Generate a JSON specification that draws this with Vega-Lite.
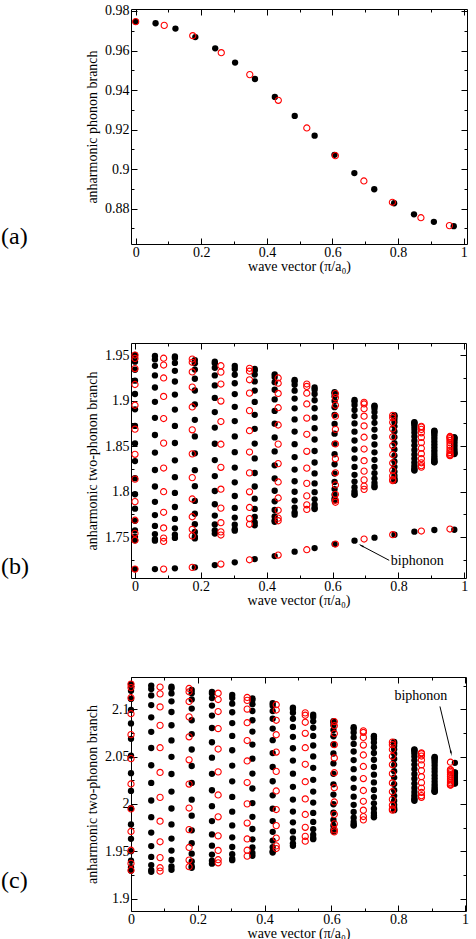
{
"$schema": "https://vega.github.io/schema/vega-lite/v6.json",
"padding": {"left": 0, "top": 3, "right": 0, "bottom": 0},
"background": "white",
"config": {
  "font": "Liberation Serif",
  "view": {"stroke": "#000", "strokeWidth": 1},
  "axis": {"grid": false, "domain": false, "tickColor": "#000", "tickWidth": 1, "labelColor": "#000", "titleColor": "#000",
           "labelFont": "Liberation Serif", "titleFont": "Liberation Serif", "labelFontSize": 14, "titleFontSize": 14,
           "titleFontWeight": "normal", "labelFlush": false, "labelOverlap": false}
},
"datasets": {
"aK": [{"k":0,"e":0.9746},{"k":0.0606,"e":0.9738},{"k":0.1212,"e":0.9711},{"k":0.1818,"e":0.9668},{"k":0.2424,"e":0.9611},{"k":0.303,"e":0.9539},{"k":0.3636,"e":0.9456},{"k":0.4242,"e":0.9365},{"k":0.4848,"e":0.9269},{"k":0.5455,"e":0.9169},{"k":0.6061,"e":0.9072},{"k":0.6667,"e":0.898},{"k":0.7273,"e":0.8898},{"k":0.7879,"e":0.8827},{"k":0.8485,"e":0.8771},{"k":0.9091,"e":0.8733},{"k":0.9697,"e":0.8711}],
"aR": [{"k":0,"e":0.9746},{"k":0.087,"e":0.9727},{"k":0.1739,"e":0.9675},{"k":0.2609,"e":0.9589},{"k":0.3478,"e":0.9478},{"k":0.4348,"e":0.9348},{"k":0.5217,"e":0.9208},{"k":0.6087,"e":0.9068},{"k":0.6957,"e":0.894},{"k":0.7826,"e":0.8832},{"k":0.8696,"e":0.8754},{"k":0.9565,"e":0.8714}],
"bK": [
{"k":0,"e":1.95},{"k":0,"e":1.9482},{"k":0,"e":1.9427},{"k":0,"e":1.9338},{"k":0,"e":1.9218},{"k":0,"e":1.9072},{"k":0,"e":1.8903},{"k":0,"e":1.8721},{"k":0,"e":1.8529},{"k":0,"e":1.8335},{"k":0,"e":1.8146},{"k":0,"e":1.797},{"k":0,"e":1.7812},{"k":0,"e":1.7678},{"k":0,"e":1.7573},{"k":0,"e":1.7502},{"k":0,"e":1.7465},{"k":0,"e":1.7148},
{"k":0.0606,"e":1.9489},{"k":0.0606,"e":1.9452},{"k":0.0606,"e":1.9381},{"k":0.0606,"e":1.9276},{"k":0.0606,"e":1.9143},{"k":0.0606,"e":1.8986},{"k":0.0606,"e":1.881},{"k":0.0606,"e":1.8621},{"k":0.0606,"e":1.8428},{"k":0.0606,"e":1.8237},{"k":0.0606,"e":1.8055},{"k":0.0606,"e":1.7887},{"k":0.0606,"e":1.7741},{"k":0.0606,"e":1.7622},{"k":0.0606,"e":1.7533},{"k":0.0606,"e":1.7478},{"k":0.0606,"e":1.746},{"k":0.0606,"e":1.7148},
{"k":0.1212,"e":1.9485},{"k":0.1212,"e":1.9467},{"k":0.1212,"e":1.9413},{"k":0.1212,"e":1.9326},{"k":0.1212,"e":1.9209},{"k":0.1212,"e":1.9065},{"k":0.1212,"e":1.89},{"k":0.1212,"e":1.8721},{"k":0.1212,"e":1.8533},{"k":0.1212,"e":1.8343},{"k":0.1212,"e":1.8158},{"k":0.1212,"e":1.7985},{"k":0.1212,"e":1.783},{"k":0.1212,"e":1.7699},{"k":0.1212,"e":1.7596},{"k":0.1212,"e":1.7526},{"k":0.1212,"e":1.749},{"k":0.1212,"e":1.7156},
{"k":0.1818,"e":1.9444},{"k":0.1818,"e":1.9409},{"k":0.1818,"e":1.934},{"k":0.1818,"e":1.9239},{"k":0.1818,"e":1.911},{"k":0.1818,"e":1.8958},{"k":0.1818,"e":1.8788},{"k":0.1818,"e":1.8606},{"k":0.1818,"e":1.842},{"k":0.1818,"e":1.8235},{"k":0.1818,"e":1.8059},{"k":0.1818,"e":1.7897},{"k":0.1818,"e":1.7756},{"k":0.1818,"e":1.7641},{"k":0.1818,"e":1.7556},{"k":0.1818,"e":1.7503},{"k":0.1818,"e":1.7485},{"k":0.1818,"e":1.7167},
{"k":0.2424,"e":1.9427},{"k":0.2424,"e":1.941},{"k":0.2424,"e":1.9359},{"k":0.2424,"e":1.9276},{"k":0.2424,"e":1.9166},{"k":0.2424,"e":1.9029},{"k":0.2424,"e":1.8873},{"k":0.2424,"e":1.8703},{"k":0.2424,"e":1.8525},{"k":0.2424,"e":1.8346},{"k":0.2424,"e":1.817},{"k":0.2424,"e":1.8006},{"k":0.2424,"e":1.786},{"k":0.2424,"e":1.7736},{"k":0.2424,"e":1.7638},{"k":0.2424,"e":1.7572},{"k":0.2424,"e":1.7538},{"k":0.2424,"e":1.7192},
{"k":0.303,"e":1.9379},{"k":0.303,"e":1.9347},{"k":0.303,"e":1.9283},{"k":0.303,"e":1.919},{"k":0.303,"e":1.9071},{"k":0.303,"e":1.8931},{"k":0.303,"e":1.8774},{"k":0.303,"e":1.8606},{"k":0.303,"e":1.8433},{"k":0.303,"e":1.8263},{"k":0.303,"e":1.8101},{"k":0.303,"e":1.7951},{"k":0.303,"e":1.782},{"k":0.303,"e":1.7714},{"k":0.303,"e":1.7635},{"k":0.303,"e":1.7586},{"k":0.303,"e":1.757},{"k":0.303,"e":1.7222},
{"k":0.3636,"e":1.9347},{"k":0.3636,"e":1.9331},{"k":0.3636,"e":1.9285},{"k":0.3636,"e":1.921},{"k":0.3636,"e":1.9109},{"k":0.3636,"e":1.8985},{"k":0.3636,"e":1.8843},{"k":0.3636,"e":1.8689},{"k":0.3636,"e":1.8527},{"k":0.3636,"e":1.8364},{"k":0.3636,"e":1.8204},{"k":0.3636,"e":1.8055},{"k":0.3636,"e":1.7922},{"k":0.3636,"e":1.7809},{"k":0.3636,"e":1.7721},{"k":0.3636,"e":1.766},{"k":0.3636,"e":1.7629},{"k":0.3636,"e":1.7258},
{"k":0.4242,"e":1.9288},{"k":0.4242,"e":1.9259},{"k":0.4242,"e":1.9202},{"k":0.4242,"e":1.9118},{"k":0.4242,"e":1.9012},{"k":0.4242,"e":1.8886},{"k":0.4242,"e":1.8746},{"k":0.4242,"e":1.8595},{"k":0.4242,"e":1.8441},{"k":0.4242,"e":1.8288},{"k":0.4242,"e":1.8143},{"k":0.4242,"e":1.8009},{"k":0.4242,"e":1.7892},{"k":0.4242,"e":1.7797},{"k":0.4242,"e":1.7726},{"k":0.4242,"e":1.7683},{"k":0.4242,"e":1.7668},{"k":0.4242,"e":1.7291},
{"k":0.4848,"e":1.9226},{"k":0.4848,"e":1.9213},{"k":0.4848,"e":1.9173},{"k":0.4848,"e":1.9108},{"k":0.4848,"e":1.9021},{"k":0.4848,"e":1.8914},{"k":0.4848,"e":1.8792},{"k":0.4848,"e":1.8659},{"k":0.4848,"e":1.852},{"k":0.4848,"e":1.8379},{"k":0.4848,"e":1.8241},{"k":0.4848,"e":1.8113},{"k":0.4848,"e":1.7998},{"k":0.4848,"e":1.7901},{"k":0.4848,"e":1.7824},{"k":0.4848,"e":1.7772},{"k":0.4848,"e":1.7746},{"k":0.4848,"e":1.7339},
{"k":0.5455,"e":1.9143},{"k":0.5455,"e":1.9119},{"k":0.5455,"e":1.9072},{"k":0.5455,"e":1.9003},{"k":0.5455,"e":1.8915},{"k":0.5455,"e":1.8812},{"k":0.5455,"e":1.8696},{"k":0.5455,"e":1.8572},{"k":0.5455,"e":1.8445},{"k":0.5455,"e":1.8319},{"k":0.5455,"e":1.8199},{"k":0.5455,"e":1.8089},{"k":0.5455,"e":1.7993},{"k":0.5455,"e":1.7914},{"k":0.5455,"e":1.7856},{"k":0.5455,"e":1.782},{"k":0.5455,"e":1.7808},{"k":0.5455,"e":1.7379},
{"k":0.6061,"e":1.9091},{"k":0.6061,"e":1.908},{"k":0.6061,"e":1.9048},{"k":0.6061,"e":1.8996},{"k":0.6061,"e":1.8927},{"k":0.6061,"e":1.8841},{"k":0.6061,"e":1.8742},{"k":0.6061,"e":1.8636},{"k":0.6061,"e":1.8524},{"k":0.6061,"e":1.841},{"k":0.6061,"e":1.83},{"k":0.6061,"e":1.8197},{"k":0.6061,"e":1.8105},{"k":0.6061,"e":1.8027},{"k":0.6061,"e":1.7965},{"k":0.6061,"e":1.7923},{"k":0.6061,"e":1.7902},{"k":0.6061,"e":1.7423},
{"k":0.6667,"e":1.9006},{"k":0.6667,"e":1.8988},{"k":0.6667,"e":1.8951},{"k":0.6667,"e":1.8897},{"k":0.6667,"e":1.8829},{"k":0.6667,"e":1.8748},{"k":0.6667,"e":1.8658},{"k":0.6667,"e":1.8561},{"k":0.6667,"e":1.8462},{"k":0.6667,"e":1.8364},{"k":0.6667,"e":1.827},{"k":0.6667,"e":1.8184},{"k":0.6667,"e":1.8109},{"k":0.6667,"e":1.8048},{"k":0.6667,"e":1.8003},{"k":0.6667,"e":1.7974},{"k":0.6667,"e":1.7965},{"k":0.6667,"e":1.746},
{"k":0.7273,"e":1.8944},{"k":0.7273,"e":1.8936},{"k":0.7273,"e":1.8912},{"k":0.7273,"e":1.8873},{"k":0.7273,"e":1.882},{"k":0.7273,"e":1.8755},{"k":0.7273,"e":1.8681},{"k":0.7273,"e":1.8601},{"k":0.7273,"e":1.8517},{"k":0.7273,"e":1.8431},{"k":0.7273,"e":1.8348},{"k":0.7273,"e":1.827},{"k":0.7273,"e":1.8201},{"k":0.7273,"e":1.8142},{"k":0.7273,"e":1.8096},{"k":0.7273,"e":1.8064},{"k":0.7273,"e":1.8048},{"k":0.7273,"e":1.7493},
{"k":0.7879,"e":1.8839},{"k":0.7879,"e":1.8826},{"k":0.7879,"e":1.8801},{"k":0.7879,"e":1.8764},{"k":0.7879,"e":1.8716},{"k":0.7879,"e":1.8661},{"k":0.7879,"e":1.8598},{"k":0.7879,"e":1.8531},{"k":0.7879,"e":1.8463},{"k":0.7879,"e":1.8395},{"k":0.7879,"e":1.833},{"k":0.7879,"e":1.8271},{"k":0.7879,"e":1.8219},{"k":0.7879,"e":1.8176},{"k":0.7879,"e":1.8145},{"k":0.7879,"e":1.8125},{"k":0.7879,"e":1.8119},{"k":0.7879,"e":1.7526},
{"k":0.8485,"e":1.8761},{"k":0.8485,"e":1.8756},{"k":0.8485,"e":1.8742},{"k":0.8485,"e":1.8719},{"k":0.8485,"e":1.8688},{"k":0.8485,"e":1.8649},{"k":0.8485,"e":1.8605},{"k":0.8485,"e":1.8558},{"k":0.8485,"e":1.8508},{"k":0.8485,"e":1.8457},{"k":0.8485,"e":1.8408},{"k":0.8485,"e":1.8362},{"k":0.8485,"e":1.8321},{"k":0.8485,"e":1.8286},{"k":0.8485,"e":1.8259},{"k":0.8485,"e":1.824},{"k":0.8485,"e":1.823},{"k":0.8485,"e":1.7559},
{"k":0.9091,"e":1.8668},{"k":0.9091,"e":1.8662},{"k":0.9091,"e":1.865},{"k":0.9091,"e":1.8632},{"k":0.9091,"e":1.8609},{"k":0.9091,"e":1.8582},{"k":0.9091,"e":1.8552},{"k":0.9091,"e":1.852},{"k":0.9091,"e":1.8487},{"k":0.9091,"e":1.8454},{"k":0.9091,"e":1.8423},{"k":0.9091,"e":1.8394},{"k":0.9091,"e":1.8369},{"k":0.9091,"e":1.8349},{"k":0.9091,"e":1.8334},{"k":0.9091,"e":1.8324},{"k":0.9091,"e":1.8321},{"k":0.9091,"e":1.7577},
{"k":0.9697,"e":1.8596},{"k":0.9697,"e":1.8594},{"k":0.9697,"e":1.8589},{"k":0.9697,"e":1.8581},{"k":0.9697,"e":1.8571},{"k":0.9697,"e":1.8557},{"k":0.9697,"e":1.8542},{"k":0.9697,"e":1.8526},{"k":0.9697,"e":1.8508},{"k":0.9697,"e":1.8491},{"k":0.9697,"e":1.8474},{"k":0.9697,"e":1.8458},{"k":0.9697,"e":1.8444},{"k":0.9697,"e":1.8432},{"k":0.9697,"e":1.8422},{"k":0.9697,"e":1.8416},{"k":0.9697,"e":1.8412},{"k":0.9697,"e":1.758}
],
"bR": [
{"k":0,"e":1.95},{"k":0,"e":1.9462},{"k":0,"e":1.9351},{"k":0,"e":1.9176},{"k":0,"e":1.8948},{"k":0,"e":1.8685},{"k":0,"e":1.8409},{"k":0,"e":1.8136},{"k":0,"e":1.7889},{"k":0,"e":1.7685},{"k":0,"e":1.7541},{"k":0,"e":1.7465},{"k":0,"e":1.7148},
{"k":0.087,"e":1.9465},{"k":0.087,"e":1.939},{"k":0.087,"e":1.9248},{"k":0.087,"e":1.9045},{"k":0.087,"e":1.8802},{"k":0.087,"e":1.8532},{"k":0.087,"e":1.8258},{"k":0.087,"e":1.7998},{"k":0.087,"e":1.7772},{"k":0.087,"e":1.76},{"k":0.087,"e":1.7489},{"k":0.087,"e":1.7452},{"k":0.087,"e":1.7148},
{"k":0.1739,"e":1.9456},{"k":0.1739,"e":1.942},{"k":0.1739,"e":1.9314},{"k":0.1739,"e":1.9147},{"k":0.1739,"e":1.8929},{"k":0.1739,"e":1.8678},{"k":0.1739,"e":1.8414},{"k":0.1739,"e":1.8153},{"k":0.1739,"e":1.7918},{"k":0.1739,"e":1.7723},{"k":0.1739,"e":1.7585},{"k":0.1739,"e":1.7513},{"k":0.1739,"e":1.7167},
{"k":0.2609,"e":1.9382},{"k":0.2609,"e":1.9312},{"k":0.2609,"e":1.9181},{"k":0.2609,"e":1.8994},{"k":0.2609,"e":1.8769},{"k":0.2609,"e":1.852},{"k":0.2609,"e":1.8266},{"k":0.2609,"e":1.8026},{"k":0.2609,"e":1.7818},{"k":0.2609,"e":1.7658},{"k":0.2609,"e":1.7557},{"k":0.2609,"e":1.7522},{"k":0.2609,"e":1.7203},
{"k":0.3478,"e":1.9354},{"k":0.3478,"e":1.9322},{"k":0.3478,"e":1.9228},{"k":0.3478,"e":1.9081},{"k":0.3478,"e":1.8889},{"k":0.3478,"e":1.8668},{"k":0.3478,"e":1.8434},{"k":0.3478,"e":1.8205},{"k":0.3478,"e":1.7997},{"k":0.3478,"e":1.7825},{"k":0.3478,"e":1.7703},{"k":0.3478,"e":1.764},{"k":0.3478,"e":1.725},
{"k":0.4348,"e":1.9248},{"k":0.4348,"e":1.919},{"k":0.4348,"e":1.9078},{"k":0.4348,"e":1.8921},{"k":0.4348,"e":1.8731},{"k":0.4348,"e":1.8521},{"k":0.4348,"e":1.8307},{"k":0.4348,"e":1.8105},{"k":0.4348,"e":1.7929},{"k":0.4348,"e":1.7794},{"k":0.4348,"e":1.7708},{"k":0.4348,"e":1.7679},{"k":0.4348,"e":1.7302},
{"k":0.5217,"e":1.9181},{"k":0.5217,"e":1.9155},{"k":0.5217,"e":1.908},{"k":0.5217,"e":1.8962},{"k":0.5217,"e":1.8807},{"k":0.5217,"e":1.8629},{"k":0.5217,"e":1.8442},{"k":0.5217,"e":1.8257},{"k":0.5217,"e":1.809},{"k":0.5217,"e":1.7952},{"k":0.5217,"e":1.7854},{"k":0.5217,"e":1.7803},{"k":0.5217,"e":1.7361},
{"k":0.6087,"e":1.9077},{"k":0.6087,"e":1.9032},{"k":0.6087,"e":1.8948},{"k":0.6087,"e":1.8828},{"k":0.6087,"e":1.8683},{"k":0.6087,"e":1.8523},{"k":0.6087,"e":1.836},{"k":0.6087,"e":1.8206},{"k":0.6087,"e":1.8072},{"k":0.6087,"e":1.797},{"k":0.6087,"e":1.7904},{"k":0.6087,"e":1.7882},{"k":0.6087,"e":1.7423},
{"k":0.6957,"e":1.898},{"k":0.6957,"e":1.8962},{"k":0.6957,"e":1.891},{"k":0.6957,"e":1.8828},{"k":0.6957,"e":1.8721},{"k":0.6957,"e":1.8597},{"k":0.6957,"e":1.8467},{"k":0.6957,"e":1.8339},{"k":0.6957,"e":1.8224},{"k":0.6957,"e":1.8128},{"k":0.6957,"e":1.806},{"k":0.6957,"e":1.8024},{"k":0.6957,"e":1.7478},
{"k":0.7826,"e":1.8838},{"k":0.7826,"e":1.8811},{"k":0.7826,"e":1.876},{"k":0.7826,"e":1.8688},{"k":0.7826,"e":1.8601},{"k":0.7826,"e":1.8505},{"k":0.7826,"e":1.8407},{"k":0.7826,"e":1.8314},{"k":0.7826,"e":1.8233},{"k":0.7826,"e":1.8172},{"k":0.7826,"e":1.8132},{"k":0.7826,"e":1.8119},{"k":0.7826,"e":1.7526},
{"k":0.8696,"e":1.8716},{"k":0.8696,"e":1.8708},{"k":0.8696,"e":1.8683},{"k":0.8696,"e":1.8645},{"k":0.8696,"e":1.8595},{"k":0.8696,"e":1.8537},{"k":0.8696,"e":1.8476},{"k":0.8696,"e":1.8416},{"k":0.8696,"e":1.8361},{"k":0.8696,"e":1.8316},{"k":0.8696,"e":1.8285},{"k":0.8696,"e":1.8268},{"k":0.8696,"e":1.7566},
{"k":0.9565,"e":1.8605},{"k":0.9565,"e":1.8597},{"k":0.9565,"e":1.8582},{"k":0.9565,"e":1.8561},{"k":0.9565,"e":1.8536},{"k":0.9565,"e":1.8507},{"k":0.9565,"e":1.8478},{"k":0.9565,"e":1.8451},{"k":0.9565,"e":1.8428},{"k":0.9565,"e":1.8409},{"k":0.9565,"e":1.8398},{"k":0.9565,"e":1.8394},{"k":0.9565,"e":1.7588}
],
"cK": [
{"k":0,"e":2.1265},{"k":0,"e":2.1247},{"k":0,"e":2.1194},{"k":0,"e":2.1108},{"k":0,"e":2.0992},{"k":0,"e":2.085},{"k":0,"e":2.0687},{"k":0,"e":2.051},{"k":0,"e":2.0324},{"k":0,"e":2.0137},{"k":0,"e":1.9954},{"k":0,"e":1.9783},{"k":0,"e":1.963},{"k":0,"e":1.95},{"k":0,"e":1.9399},{"k":0,"e":1.933},{"k":0,"e":1.9294},
{"k":0.0606,"e":2.1249},{"k":0.0606,"e":2.1214},{"k":0.0606,"e":2.1145},{"k":0.0606,"e":2.1043},{"k":0.0606,"e":2.0914},{"k":0.0606,"e":2.0761},{"k":0.0606,"e":2.059},{"k":0.0606,"e":2.0408},{"k":0.0606,"e":2.0221},{"k":0.0606,"e":2.0035},{"k":0.0606,"e":1.9859},{"k":0.0606,"e":1.9696},{"k":0.0606,"e":1.9554},{"k":0.0606,"e":1.9439},{"k":0.0606,"e":1.9353},{"k":0.0606,"e":1.93},{"k":0.0606,"e":1.9282},
{"k":0.1212,"e":2.1237},{"k":0.1212,"e":2.122},{"k":0.1212,"e":2.1167},{"k":0.1212,"e":2.1083},{"k":0.1212,"e":2.097},{"k":0.1212,"e":2.083},{"k":0.1212,"e":2.067},{"k":0.1212,"e":2.0497},{"k":0.1212,"e":2.0315},{"k":0.1212,"e":2.013},{"k":0.1212,"e":1.9951},{"k":0.1212,"e":1.9783},{"k":0.1212,"e":1.9633},{"k":0.1212,"e":1.9506},{"k":0.1212,"e":1.9407},{"k":0.1212,"e":1.9339},{"k":0.1212,"e":1.9304},
{"k":0.1818,"e":2.1203},{"k":0.1818,"e":2.1169},{"k":0.1818,"e":2.1103},{"k":0.1818,"e":2.1006},{"k":0.1818,"e":2.0883},{"k":0.1818,"e":2.0737},{"k":0.1818,"e":2.0574},{"k":0.1818,"e":2.04},{"k":0.1818,"e":2.0221},{"k":0.1818,"e":2.0044},{"k":0.1818,"e":1.9875},{"k":0.1818,"e":1.972},{"k":0.1818,"e":1.9584},{"k":0.1818,"e":1.9474},{"k":0.1818,"e":1.9392},{"k":0.1818,"e":1.9341},{"k":0.1818,"e":1.9324},
{"k":0.2424,"e":2.1183},{"k":0.2424,"e":2.1167},{"k":0.2424,"e":2.1117},{"k":0.2424,"e":2.1038},{"k":0.2424,"e":2.0932},{"k":0.2424,"e":2.0801},{"k":0.2424,"e":2.0651},{"k":0.2424,"e":2.0488},{"k":0.2424,"e":2.0317},{"k":0.2424,"e":2.0144},{"k":0.2424,"e":1.9975},{"k":0.2424,"e":1.9818},{"k":0.2424,"e":1.9677},{"k":0.2424,"e":1.9558},{"k":0.2424,"e":1.9464},{"k":0.2424,"e":1.94},{"k":0.2424,"e":1.9368},
{"k":0.303,"e":2.1151},{"k":0.303,"e":2.1119},{"k":0.303,"e":2.1058},{"k":0.303,"e":2.0968},{"k":0.303,"e":2.0853},{"k":0.303,"e":2.0718},{"k":0.303,"e":2.0566},{"k":0.303,"e":2.0404},{"k":0.303,"e":2.0238},{"k":0.303,"e":2.0073},{"k":0.303,"e":1.9917},{"k":0.303,"e":1.9772},{"k":0.303,"e":1.9646},{"k":0.303,"e":1.9544},{"k":0.303,"e":1.9468},{"k":0.303,"e":1.9421},{"k":0.303,"e":1.9405},
{"k":0.3636,"e":2.1113},{"k":0.3636,"e":2.1098},{"k":0.3636,"e":2.1053},{"k":0.3636,"e":2.0981},{"k":0.3636,"e":2.0883},{"k":0.3636,"e":2.0763},{"k":0.3636,"e":2.0626},{"k":0.3636,"e":2.0477},{"k":0.3636,"e":2.032},{"k":0.3636,"e":2.0162},{"k":0.3636,"e":2.0008},{"k":0.3636,"e":1.9863},{"k":0.3636,"e":1.9734},{"k":0.3636,"e":1.9625},{"k":0.3636,"e":1.9539},{"k":0.3636,"e":1.9481},{"k":0.3636,"e":1.9451},
{"k":0.4242,"e":2.1064},{"k":0.4242,"e":2.1036},{"k":0.4242,"e":2.098},{"k":0.4242,"e":2.0899},{"k":0.4242,"e":2.0795},{"k":0.4242,"e":2.0673},{"k":0.4242,"e":2.0536},{"k":0.4242,"e":2.0389},{"k":0.4242,"e":2.0239},{"k":0.4242,"e":2.009},{"k":0.4242,"e":1.9949},{"k":0.4242,"e":1.9818},{"k":0.4242,"e":1.9704},{"k":0.4242,"e":1.9612},{"k":0.4242,"e":1.9543},{"k":0.4242,"e":1.95},{"k":0.4242,"e":1.9486},
{"k":0.4848,"e":2.1015},{"k":0.4848,"e":2.1002},{"k":0.4848,"e":2.0962},{"k":0.4848,"e":2.0899},{"k":0.4848,"e":2.0813},{"k":0.4848,"e":2.0708},{"k":0.4848,"e":2.0587},{"k":0.4848,"e":2.0457},{"k":0.4848,"e":2.0319},{"k":0.4848,"e":2.018},{"k":0.4848,"e":2.0045},{"k":0.4848,"e":1.9918},{"k":0.4848,"e":1.9805},{"k":0.4848,"e":1.9709},{"k":0.4848,"e":1.9634},{"k":0.4848,"e":1.9583},{"k":0.4848,"e":1.9557},
{"k":0.5455,"e":2.0942},{"k":0.5455,"e":2.0918},{"k":0.5455,"e":2.0872},{"k":0.5455,"e":2.0804},{"k":0.5455,"e":2.0718},{"k":0.5455,"e":2.0616},{"k":0.5455,"e":2.0501},{"k":0.5455,"e":2.038},{"k":0.5455,"e":2.0254},{"k":0.5455,"e":2.013},{"k":0.5455,"e":2.0013},{"k":0.5455,"e":1.9904},{"k":0.5455,"e":1.9809},{"k":0.5455,"e":1.9732},{"k":0.5455,"e":1.9674},{"k":0.5455,"e":1.9639},{"k":0.5455,"e":1.9627},
{"k":0.6061,"e":2.0874},{"k":0.6061,"e":2.0863},{"k":0.6061,"e":2.0832},{"k":0.6061,"e":2.0781},{"k":0.6061,"e":2.0713},{"k":0.6061,"e":2.0628},{"k":0.6061,"e":2.0532},{"k":0.6061,"e":2.0427},{"k":0.6061,"e":2.0317},{"k":0.6061,"e":2.0206},{"k":0.6061,"e":2.0098},{"k":0.6061,"e":1.9996},{"k":0.6061,"e":1.9906},{"k":0.6061,"e":1.9829},{"k":0.6061,"e":1.9769},{"k":0.6061,"e":1.9728},{"k":0.6061,"e":1.9707},
{"k":0.6667,"e":2.081},{"k":0.6667,"e":2.0792},{"k":0.6667,"e":2.0755},{"k":0.6667,"e":2.0702},{"k":0.6667,"e":2.0633},{"k":0.6667,"e":2.0553},{"k":0.6667,"e":2.0462},{"k":0.6667,"e":2.0366},{"k":0.6667,"e":2.0267},{"k":0.6667,"e":2.0169},{"k":0.6667,"e":2.0076},{"k":0.6667,"e":1.999},{"k":0.6667,"e":1.9915},{"k":0.6667,"e":1.9854},{"k":0.6667,"e":1.9809},{"k":0.6667,"e":1.978},{"k":0.6667,"e":1.9771},
{"k":0.7273,"e":2.0718},{"k":0.7273,"e":2.071},{"k":0.7273,"e":2.0687},{"k":0.7273,"e":2.0649},{"k":0.7273,"e":2.0599},{"k":0.7273,"e":2.0537},{"k":0.7273,"e":2.0466},{"k":0.7273,"e":2.0389},{"k":0.7273,"e":2.0308},{"k":0.7273,"e":2.0226},{"k":0.7273,"e":2.0146},{"k":0.7273,"e":2.0071},{"k":0.7273,"e":2.0005},{"k":0.7273,"e":1.9948},{"k":0.7273,"e":1.9904},{"k":0.7273,"e":1.9874},{"k":0.7273,"e":1.9858},
{"k":0.7879,"e":2.0653},{"k":0.7879,"e":2.064},{"k":0.7879,"e":2.0615},{"k":0.7879,"e":2.0578},{"k":0.7879,"e":2.053},{"k":0.7879,"e":2.0475},{"k":0.7879,"e":2.0412},{"k":0.7879,"e":2.0345},{"k":0.7879,"e":2.0277},{"k":0.7879,"e":2.0209},{"k":0.7879,"e":2.0144},{"k":0.7879,"e":2.0085},{"k":0.7879,"e":2.0033},{"k":0.7879,"e":1.999},{"k":0.7879,"e":1.9959},{"k":0.7879,"e":1.9939},{"k":0.7879,"e":1.9933},
{"k":0.8485,"e":2.0574},{"k":0.8485,"e":2.0569},{"k":0.8485,"e":2.0554},{"k":0.8485,"e":2.0531},{"k":0.8485,"e":2.0499},{"k":0.8485,"e":2.046},{"k":0.8485,"e":2.0415},{"k":0.8485,"e":2.0367},{"k":0.8485,"e":2.0316},{"k":0.8485,"e":2.0265},{"k":0.8485,"e":2.0214},{"k":0.8485,"e":2.0167},{"k":0.8485,"e":2.0125},{"k":0.8485,"e":2.009},{"k":0.8485,"e":2.0062},{"k":0.8485,"e":2.0043},{"k":0.8485,"e":2.0033},
{"k":0.9091,"e":2.0496},{"k":0.9091,"e":2.0489},{"k":0.9091,"e":2.0476},{"k":0.9091,"e":2.0457},{"k":0.9091,"e":2.0433},{"k":0.9091,"e":2.0404},{"k":0.9091,"e":2.0372},{"k":0.9091,"e":2.0338},{"k":0.9091,"e":2.0303},{"k":0.9091,"e":2.0268},{"k":0.9091,"e":2.0235},{"k":0.9091,"e":2.0205},{"k":0.9091,"e":2.0178},{"k":0.9091,"e":2.0157},{"k":0.9091,"e":2.0141},{"k":0.9091,"e":2.0131},{"k":0.9091,"e":2.0127},
{"k":0.9697,"e":2.0433},{"k":0.9697,"e":2.0331},{"k":0.9697,"e":2.033},{"k":0.9697,"e":2.0327},{"k":0.9697,"e":2.0322},{"k":0.9697,"e":2.0315},{"k":0.9697,"e":2.0307},{"k":0.9697,"e":2.0297},{"k":0.9697,"e":2.0287},{"k":0.9697,"e":2.0276},{"k":0.9697,"e":2.0265},{"k":0.9697,"e":2.0254},{"k":0.9697,"e":2.0244},{"k":0.9697,"e":2.0235},{"k":0.9697,"e":2.0227},{"k":0.9697,"e":2.0221},{"k":0.9697,"e":2.0217},{"k":0.9697,"e":2.0215}
],
"cR": [
{"k":0,"e":2.1265},{"k":0,"e":2.1228},{"k":0,"e":2.1121},{"k":0,"e":2.0952},{"k":0,"e":2.0731},{"k":0,"e":2.0478},{"k":0,"e":2.021},{"k":0,"e":1.9946},{"k":0,"e":1.9708},{"k":0,"e":1.951},{"k":0,"e":1.9371},{"k":0,"e":1.9298},
{"k":0.087,"e":2.1234},{"k":0.087,"e":2.1162},{"k":0.087,"e":2.1024},{"k":0.087,"e":2.0829},{"k":0.087,"e":2.0593},{"k":0.087,"e":2.0332},{"k":0.087,"e":2.0068},{"k":0.087,"e":1.9817},{"k":0.087,"e":1.9599},{"k":0.087,"e":1.9432},{"k":0.087,"e":1.9325},{"k":0.087,"e":1.9289},
{"k":0.1739,"e":2.1219},{"k":0.1739,"e":2.1184},{"k":0.1739,"e":2.1081},{"k":0.1739,"e":2.0919},{"k":0.1739,"e":2.0708},{"k":0.1739,"e":2.0465},{"k":0.1739,"e":2.0209},{"k":0.1739,"e":1.9956},{"k":0.1739,"e":1.9728},{"k":0.1739,"e":1.9539},{"k":0.1739,"e":1.9406},{"k":0.1739,"e":1.9336},
{"k":0.2609,"e":2.1169},{"k":0.2609,"e":2.1102},{"k":0.2609,"e":2.0975},{"k":0.2609,"e":2.0795},{"k":0.2609,"e":2.0579},{"k":0.2609,"e":2.0338},{"k":0.2609,"e":2.0094},{"k":0.2609,"e":1.9863},{"k":0.2609,"e":1.9662},{"k":0.2609,"e":1.9508},{"k":0.2609,"e":1.941},{"k":0.2609,"e":1.9377},
{"k":0.3478,"e":2.1124},{"k":0.3478,"e":2.1093},{"k":0.3478,"e":2.1001},{"k":0.3478,"e":2.0857},{"k":0.3478,"e":2.0669},{"k":0.3478,"e":2.0453},{"k":0.3478,"e":2.0225},{"k":0.3478,"e":2.0},{"k":0.3478,"e":1.9797},{"k":0.3478,"e":1.9629},{"k":0.3478,"e":1.951},{"k":0.3478,"e":1.9448},
{"k":0.4348,"e":2.1047},{"k":0.4348,"e":2.0991},{"k":0.4348,"e":2.0883},{"k":0.4348,"e":2.073},{"k":0.4348,"e":2.0547},{"k":0.4348,"e":2.0343},{"k":0.4348,"e":2.0136},{"k":0.4348,"e":1.994},{"k":0.4348,"e":1.977},{"k":0.4348,"e":1.9639},{"k":0.4348,"e":1.9556},{"k":0.4348,"e":1.9528},
{"k":0.5217,"e":2.0961},{"k":0.5217,"e":2.0936},{"k":0.5217,"e":2.0862},{"k":0.5217,"e":2.0745},{"k":0.5217,"e":2.0593},{"k":0.5217,"e":2.0418},{"k":0.5217,"e":2.0234},{"k":0.5217,"e":2.0052},{"k":0.5217,"e":1.9888},{"k":0.5217,"e":1.9752},{"k":0.5217,"e":1.9656},{"k":0.5217,"e":1.9605},
{"k":0.6087,"e":2.0869},{"k":0.6087,"e":2.0825},{"k":0.6087,"e":2.0743},{"k":0.6087,"e":2.0626},{"k":0.6087,"e":2.0485},{"k":0.6087,"e":2.0329},{"k":0.6087,"e":2.017},{"k":0.6087,"e":2.002},{"k":0.6087,"e":1.9889},{"k":0.6087,"e":1.9789},{"k":0.6087,"e":1.9726},{"k":0.6087,"e":1.9704},
{"k":0.6957,"e":2.0771},{"k":0.6957,"e":2.0754},{"k":0.6957,"e":2.0702},{"k":0.6957,"e":2.0621},{"k":0.6957,"e":2.0516},{"k":0.6957,"e":2.0395},{"k":0.6957,"e":2.0267},{"k":0.6957,"e":2.0141},{"k":0.6957,"e":2.0027},{"k":0.6957,"e":1.9933},{"k":0.6957,"e":1.9866},{"k":0.6957,"e":1.9831},
{"k":0.7826,"e":2.0652},{"k":0.7826,"e":2.0625},{"k":0.7826,"e":2.0574},{"k":0.7826,"e":2.0502},{"k":0.7826,"e":2.0415},{"k":0.7826,"e":2.0319},{"k":0.7826,"e":2.0221},{"k":0.7826,"e":2.0128},{"k":0.7826,"e":2.0047},{"k":0.7826,"e":1.9986},{"k":0.7826,"e":1.9946},{"k":0.7826,"e":1.9933},
{"k":0.8696,"e":2.0539},{"k":0.8696,"e":2.053},{"k":0.8696,"e":2.0505},{"k":0.8696,"e":2.0464},{"k":0.8696,"e":2.0412},{"k":0.8696,"e":2.0351},{"k":0.8696,"e":2.0287},{"k":0.8696,"e":2.0224},{"k":0.8696,"e":2.0167},{"k":0.8696,"e":2.012},{"k":0.8696,"e":2.0087},{"k":0.8696,"e":2.0069},
{"k":0.9565,"e":2.044},{"k":0.9565,"e":2.0362},{"k":0.9565,"e":2.0356},{"k":0.9565,"e":2.0344},{"k":0.9565,"e":2.0328},{"k":0.9565,"e":2.0308},{"k":0.9565,"e":2.0286},{"k":0.9565,"e":2.0263},{"k":0.9565,"e":2.0242},{"k":0.9565,"e":2.0223},{"k":0.9565,"e":2.0209},{"k":0.9565,"e":2.02},{"k":0.9565,"e":2.0197}
]
},
"spacing": 99,
"bounds": "flush",
"vconcat": [
{
  "width": 336, "height": 235,
  "resolve": {"axis": {"x": "independent", "y": "independent"}},
  "layer": [
    {"data": {"name": "aK"}, "mark": {"type": "point", "filled": true, "color": "#000", "size": 40, "opacity": 1},
     "encoding": {
       "x": {"field": "k", "type": "quantitative", "scale": {"domain": [-0.0143, 1.0101], "nice": false, "zero": false},
             "axis": {"orient": "bottom", "values": [0, 0.2, 0.4, 0.6, 0.8, 1], "format": "~g", "title": "wave vector (π/a₀)", "tickSize": -6, "labelPadding": 7, "titlePadding": 0}},
       "y": {"field": "e", "type": "quantitative", "scale": {"domain": [0.8621, 0.981], "nice": false, "zero": false},
             "axis": {"orient": "left", "values": [0.88, 0.9, 0.92, 0.94, 0.96, 0.98], "format": "~g", "title": "anharmonic phonon branch", "tickSize": -6, "labelPadding": 8, "titlePadding": 5}}}},
    {"data": {"name": "aR"}, "mark": {"type": "point", "filled": false, "color": "#ff0000", "strokeWidth": 1.1, "size": 38, "opacity": 1},
     "encoding": {
       "x": {"field": "k", "type": "quantitative", "scale": {"domain": [-0.0143, 1.0101], "nice": false, "zero": false},
             "axis": {"orient": "bottom", "values": [0.1, 0.3, 0.5, 0.7, 0.9], "labels": false, "tickSize": -3, "title": null}},
       "y": {"field": "e", "type": "quantitative", "scale": {"domain": [0.8621, 0.981], "nice": false, "zero": false},
             "axis": {"orient": "left", "values": [0.87, 0.89, 0.91, 0.93, 0.95, 0.97], "labels": false, "tickSize": -3, "title": null}}}},
    {"data": {"values": [{"t": "(a)", "k": -0.4106, "e": 0.8621}]},
     "mark": {"type": "text", "align": "left", "baseline": "alphabetic", "fontSize": 24, "font": "Liberation Serif", "color": "#000"},
     "encoding": {
       "text": {"field": "t"},
       "x": {"field": "k", "type": "quantitative", "scale": {"domain": [-0.0143, 1.0101], "nice": false, "zero": false},
             "axis": {"orient": "top", "values": [0, 0.2, 0.4, 0.6, 0.8, 1], "labels": false, "tickSize": -6, "title": null}},
       "y": {"field": "e", "type": "quantitative", "scale": {"domain": [0.8621, 0.981], "nice": false, "zero": false},
             "axis": {"orient": "right", "values": [0.88, 0.9, 0.92, 0.94, 0.96, 0.98], "labels": false, "tickSize": -6, "title": null}}}},
    {"data": {"values": []}, "mark": {"type": "point", "opacity": 0},
     "encoding": {
       "x": {"field": "k", "type": "quantitative", "scale": {"domain": [-0.0143, 1.0101], "nice": false, "zero": false},
             "axis": {"orient": "top", "values": [0.1, 0.3, 0.5, 0.7, 0.9], "labels": false, "tickSize": -3, "title": null}},
       "y": {"field": "e", "type": "quantitative", "scale": {"domain": [0.8621, 0.981], "nice": false, "zero": false},
             "axis": {"orient": "right", "values": [0.87, 0.89, 0.91, 0.93, 0.95, 0.97], "labels": false, "tickSize": -3, "title": null}}}}
  ]
},
{
  "width": 335, "height": 235,
  "resolve": {"axis": {"x": "independent", "y": "independent"}},
  "layer": [
    {"data": {"name": "bK"}, "mark": {"type": "point", "filled": true, "color": "#000", "size": 40, "opacity": 1},
     "encoding": {
       "x": {"field": "k", "type": "quantitative", "scale": {"domain": [-0.0121, 1.0052], "nice": false, "zero": false},
             "axis": {"orient": "bottom", "values": [0, 0.2, 0.4, 0.6, 0.8, 1], "format": "~g", "title": "wave vector (π/a₀)", "tickSize": -6, "labelPadding": 7, "titlePadding": 0}},
       "y": {"field": "e", "type": "quantitative", "scale": {"domain": [1.705, 1.9632], "nice": false, "zero": false},
             "axis": {"orient": "left", "values": [1.75, 1.8, 1.85, 1.9, 1.95], "format": "~g", "title": "anharmonic two-phonon branch", "tickSize": -6, "labelPadding": 8, "titlePadding": 5}}}},
    {"data": {"name": "bR"}, "mark": {"type": "point", "filled": false, "color": "#ff0000", "strokeWidth": 1.1, "size": 38, "opacity": 1},
     "encoding": {
       "x": {"field": "k", "type": "quantitative", "scale": {"domain": [-0.0121, 1.0052], "nice": false, "zero": false},
             "axis": {"orient": "bottom", "values": [0.1, 0.3, 0.5, 0.7, 0.9], "labels": false, "tickSize": -3, "title": null}},
       "y": {"field": "e", "type": "quantitative", "scale": {"domain": [1.705, 1.9632], "nice": false, "zero": false},
             "axis": {"orient": "left", "values": [1.725, 1.775, 1.825, 1.875, 1.925], "labels": false, "tickSize": -3, "title": null}}}},
    {"data": {"values": [{"t": "(b)", "k": -0.4069, "e": 1.709}]},
     "mark": {"type": "text", "align": "left", "baseline": "alphabetic", "fontSize": 24, "font": "Liberation Serif", "color": "#000"},
     "encoding": {
       "text": {"field": "t"},
       "x": {"field": "k", "type": "quantitative", "scale": {"domain": [-0.0121, 1.0052], "nice": false, "zero": false},
             "axis": {"orient": "top", "values": [0, 0.2, 0.4, 0.6, 0.8, 1], "labels": false, "tickSize": -6, "title": null}},
       "y": {"field": "e", "type": "quantitative", "scale": {"domain": [1.705, 1.9632], "nice": false, "zero": false},
             "axis": {"orient": "right", "values": [1.75, 1.8, 1.85, 1.9, 1.95], "labels": false, "tickSize": -6, "title": null}}}},
    {"data": {"values": [{"t": "biphonon", "k": 0.777, "e": 1.7189}]},
     "mark": {"type": "text", "align": "left", "baseline": "alphabetic", "fontSize": 14, "font": "Liberation Serif", "color": "#000"},
     "encoding": {
       "text": {"field": "t"},
       "x": {"field": "k", "type": "quantitative", "scale": {"domain": [-0.0121, 1.0052], "nice": false, "zero": false},
             "axis": {"orient": "top", "values": [0.1, 0.3, 0.5, 0.7, 0.9], "labels": false, "tickSize": -3, "title": null}},
       "y": {"field": "e", "type": "quantitative", "scale": {"domain": [1.705, 1.9632], "nice": false, "zero": false},
             "axis": {"orient": "right", "values": [1.725, 1.775, 1.825, 1.875, 1.925], "labels": false, "tickSize": -3, "title": null}}}},
    {"data": {"values": [{"k": 0.772, "e": 1.7244, "k2": 0.684, "e2": 1.7412}]},
     "mark": {"type": "rule", "color": "#000", "strokeWidth": 1},
     "encoding": {
       "x": {"field": "k", "type": "quantitative", "scale": {"domain": [-0.0121, 1.0052], "nice": false, "zero": false}, "axis": null},
       "y": {"field": "e", "type": "quantitative", "scale": {"domain": [1.705, 1.9632], "nice": false, "zero": false}, "axis": null},
       "x2": {"field": "k2"}, "y2": {"field": "e2"}}},
    {"data": {"values": [{"k": 0.689, "e": 1.7404}]},
     "mark": {"type": "point", "shape": "wedge", "filled": true, "color": "#000", "size": 45, "angle": 298, "opacity": 1},
     "encoding": {
       "x": {"field": "k", "type": "quantitative", "scale": {"domain": [-0.0121, 1.0052], "nice": false, "zero": false}, "axis": null},
       "y": {"field": "e", "type": "quantitative", "scale": {"domain": [1.705, 1.9632], "nice": false, "zero": false}, "axis": null}}}
  ]
},
{
  "width": 335, "height": 234,
  "resolve": {"axis": {"x": "independent", "y": "independent"}},
  "layer": [
    {"data": {"name": "cK"}, "mark": {"type": "point", "filled": true, "color": "#000", "size": 40, "opacity": 1},
     "encoding": {
       "x": {"field": "k", "type": "quantitative", "scale": {"domain": [0, 1.003], "nice": false, "zero": false},
             "axis": {"orient": "bottom", "values": [0, 0.2, 0.4, 0.6, 0.8, 1], "format": "~g", "title": "wave vector (π/a₀)", "tickSize": -6, "labelPadding": 7, "titlePadding": 0}},
       "y": {"field": "e", "type": "quantitative", "scale": {"domain": [1.8868, 2.134], "nice": false, "zero": false},
             "axis": {"orient": "left", "values": [1.9, 1.95, 2, 2.05, 2.1], "format": "~g", "title": "anharmonic two-phonon branch", "tickSize": -6, "labelPadding": 8, "titlePadding": 5}}}},
    {"data": {"name": "cR"}, "mark": {"type": "point", "filled": false, "color": "#ff0000", "strokeWidth": 1.1, "size": 38, "opacity": 1},
     "encoding": {
       "x": {"field": "k", "type": "quantitative", "scale": {"domain": [0, 1.003], "nice": false, "zero": false},
             "axis": {"orient": "bottom", "values": [0.1, 0.3, 0.5, 0.7, 0.9], "labels": false, "tickSize": -3, "title": null}},
       "y": {"field": "e", "type": "quantitative", "scale": {"domain": [1.8868, 2.134], "nice": false, "zero": false},
             "axis": {"orient": "left", "values": [1.925, 1.975, 2.025, 2.075, 2.125], "labels": false, "tickSize": -3, "title": null}}}},
    {"data": {"values": [{"t": "(c)", "k": -0.3892, "e": 1.911}]},
     "mark": {"type": "text", "align": "left", "baseline": "alphabetic", "fontSize": 24, "font": "Liberation Serif", "color": "#000"},
     "encoding": {
       "text": {"field": "t"},
       "x": {"field": "k", "type": "quantitative", "scale": {"domain": [0, 1.003], "nice": false, "zero": false},
             "axis": {"orient": "top", "values": [0, 0.2, 0.4, 0.6, 0.8, 1], "labels": false, "tickSize": -6, "title": null}},
       "y": {"field": "e", "type": "quantitative", "scale": {"domain": [1.8868, 2.134], "nice": false, "zero": false},
             "axis": {"orient": "right", "values": [1.9, 1.95, 2, 2.05, 2.1], "labels": false, "tickSize": -6, "title": null}}}},
    {"data": {"values": [{"t": "biphonon", "k": 0.7886, "e": 2.1099}]},
     "mark": {"type": "text", "align": "left", "baseline": "alphabetic", "fontSize": 14, "font": "Liberation Serif", "color": "#000"},
     "encoding": {
       "text": {"field": "t"},
       "x": {"field": "k", "type": "quantitative", "scale": {"domain": [0, 1.003], "nice": false, "zero": false},
             "axis": {"orient": "top", "values": [0.1, 0.3, 0.5, 0.7, 0.9], "labels": false, "tickSize": -3, "title": null}},
       "y": {"field": "e", "type": "quantitative", "scale": {"domain": [1.8868, 2.134], "nice": false, "zero": false},
             "axis": {"orient": "right", "values": [1.925, 1.975, 2.025, 2.075, 2.125], "labels": false, "tickSize": -3, "title": null}}}},
    {"data": {"values": [{"k": 0.925, "e": 2.1029, "k2": 0.9585, "e2": 2.0535}]},
     "mark": {"type": "rule", "color": "#000", "strokeWidth": 1},
     "encoding": {
       "x": {"field": "k", "type": "quantitative", "scale": {"domain": [0, 1.003], "nice": false, "zero": false}, "axis": null},
       "y": {"field": "e", "type": "quantitative", "scale": {"domain": [1.8868, 2.134], "nice": false, "zero": false}, "axis": null},
       "x2": {"field": "k2"}, "y2": {"field": "e2"}}},
    {"data": {"values": [{"k": 0.958, "e": 2.0542}]},
     "mark": {"type": "point", "shape": "wedge", "filled": true, "color": "#000", "size": 45, "angle": 167, "opacity": 1},
     "encoding": {
       "x": {"field": "k", "type": "quantitative", "scale": {"domain": [0, 1.003], "nice": false, "zero": false}, "axis": null},
       "y": {"field": "e", "type": "quantitative", "scale": {"domain": [1.8868, 2.134], "nice": false, "zero": false}, "axis": null}}}
  ]
}
]
}
